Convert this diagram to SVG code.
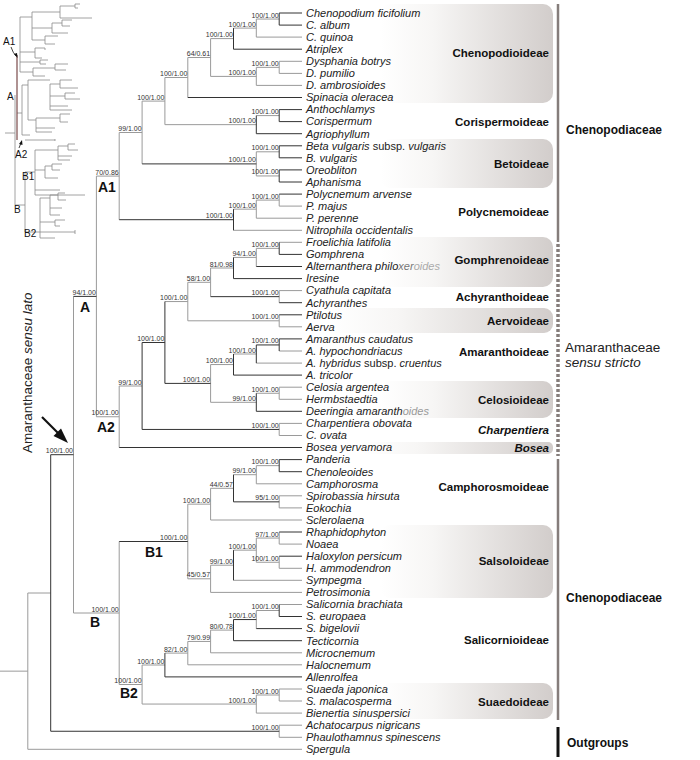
<svg xmlns="http://www.w3.org/2000/svg" width="700" height="760" viewBox="0 0 700 760">
<defs>
<linearGradient id="bg" x1="0" x2="1" y1="0" y2="0">
<stop offset="0" stop-color="#ffffff"/>
<stop offset="0.3" stop-color="#f7f6f5"/>
<stop offset="1" stop-color="#d2cdcb"/>
</linearGradient>
<style>
.l{stroke:#9a9a9a;stroke-width:1;fill:none}
.d{stroke:#333;stroke-width:1;fill:none}
.tx{font-family:"Liberation Sans",Arial,sans-serif;font-style:italic;font-size:11px;fill:#222}
.up{font-style:normal}
.s{font-family:"Liberation Sans",Arial,sans-serif;font-size:7px;fill:#333;text-anchor:end}
.sf{font-family:"Liberation Sans",Arial,sans-serif;font-weight:bold;font-size:11.5px;fill:#111;text-anchor:end}
.cl{font-family:"Liberation Sans",Arial,sans-serif;font-weight:bold;font-size:14px;fill:#111}
.fam{font-family:"Liberation Sans",Arial,sans-serif;font-weight:bold;font-size:12px;fill:#111}
.box{fill:url(#bg)}
.th{stroke:#8a8a8a;stroke-width:0.8;fill:none}
.thd{stroke:#444;stroke-width:0.8;fill:none}
.tl{font-family:"Liberation Sans",Arial,sans-serif;font-size:10px;fill:#111}
</style>
</defs>
<rect width="700" height="760" fill="#fff"/>

<g id="subfamily-boxes">
<rect class="box" x="380" y="4" width="173" height="99" rx="10"/>
<rect class="box" x="380" y="139" width="173" height="49" rx="10"/>
<rect class="box" x="380" y="237" width="173" height="50" rx="10"/>
<rect class="box" x="330" y="308" width="223" height="25" rx="9"/>
<rect class="box" x="380" y="381" width="173" height="37" rx="10"/>
<rect class="box" x="360" y="442" width="193" height="12" rx="5"/>
<rect class="box" x="380" y="525" width="173" height="73" rx="10"/>
<rect class="box" x="380" y="683" width="173" height="36" rx="10"/>
</g>

<g id="connectors">
<path class="l" d="M0 671.15H27.8 M27.8 593V749.3 M27.8 593H50.7 M27.8 749.3H302
M73.5 296.4V613 M73.5 613H119.2
M96.4 176.1V416.75 M96.4 176.1H119.2 M96.4 416.75H119.2
M256.3 19.05V37.1 M256.3 19.05H279.2 M256.3 37.1H302
M233.5 28.1H256.3
M279.2 61.3V73.4 M279.2 61.3H302 M279.2 73.4H302
M256.3 67.35V85.4 M256.3 67.35H279.2 M256.3 85.4H302
M210.6 38.6V76.4 M210.6 38.6H233.5 M210.6 76.4H256.3
M187.8 57.5V97.5 M187.8 57.5H210.6
M256.3 115.6H279.2
M164.9 77.5V124.65 M164.9 77.5H187.8 M164.9 124.65H256.3
M256.3 151.8V175.95 M256.3 151.8H279.2 M256.3 175.95H279.2
M142.1 101.1V163.9 M142.1 101.1H164.9
M279.2 194.1V206.1 M279.2 206.1H302
M256.3 200.1V218.2 M256.3 200.1H279.2 M256.3 218.2H302
M233.5 209.15H256.3 M233.5 230.3H302
M119.2 132.5V219.7 M119.2 132.5H142.1
M279.2 242.3H302
M256.3 248.35V266.5 M256.3 248.35H279.2
M233.5 257.4H256.3
M279.2 290.6V302.7 M279.2 290.6H302
M210.6 268V296.65 M210.6 268H233.5
M279.2 314.8V326.8 M279.2 326.8H302
M187.8 282.3V320.8 M187.8 282.3H210.6 M187.8 320.8H279.2
M279.2 351H302
M256.3 363.1H302
M233.5 354H256.3
M279.2 387.2V399.3 M279.2 387.2H302 M279.2 399.3H302
M256.3 393.25H279.2
M210.6 364.55V402.3 M210.6 364.55H233.5 M210.6 402.3H256.3
M164.9 301.55H187.8
M279.2 423.4V435.5 M279.2 423.4H302 M279.2 435.5H302
M119.2 386V447.5 M119.2 386H142.1
M256.3 465.65V483.8 M256.3 465.65H279.2 M256.3 483.8H302
M279.2 495.8V507.9 M279.2 495.8H302 M279.2 507.9H302
M233.5 474.7H256.3
M210.6 488.3V520 M210.6 488.3H233.5 M210.6 520H302
M279.2 532V544.1 M279.2 544.1H302
M279.2 556.2V568.3 M279.2 568.3H302
M256.3 538.05V562.25 M256.3 538.05H279.2 M256.3 562.25H279.2
M233.5 550.15H256.3 M233.5 580.3H302
M210.6 565.2V592.4 M210.6 565.2H233.5 M210.6 592.4H302
M187.8 504.15V578.8 M187.8 504.15H210.6 M187.8 578.8H210.6
M279.2 604.5H302
M256.3 610.5V628.6 M256.3 610.5H279.2
M210.6 630.1V652.8 M210.6 630.1H233.5 M210.6 652.8H302
M187.8 641.45V664.8 M187.8 641.45H210.6 M187.8 664.8H302
M164.9 653.1H187.8
M279.2 689V701 M279.2 689H302 M279.2 701H302
M256.3 695V713.1 M256.3 695H279.2 M256.3 713.1H302
M142.1 665V704.05 M142.1 665H164.9 M142.1 704.05H256.3
M119.2 541.5V684.5 M119.2 684.5H142.1
M279.2 725.2V737.3 M279.2 725.2H302 M279.2 737.3H302"/>
<path class="d" d="M279.2 13V25.1 M279.2 13H302 M279.2 25.1H302
M233.5 28.1V49.2 M233.5 49.2H302
M187.8 97.5H302
M279.2 109.6V121.6 M279.2 109.6H302 M279.2 121.6H302
M256.3 115.6V133.7 M256.3 133.7H302
M279.2 145.8V157.8 M279.2 145.8H302 M279.2 157.8H302
M279.2 169.9V182 M279.2 169.9H302 M279.2 182H302
M142.1 163.9H256.3
M279.2 194.1H302
M233.5 209.15V230.3
M119.2 219.7H233.5
M279.2 242.3V254.4 M279.2 254.4H302
M256.3 266.5H302
M233.5 257.4V278.6 M233.5 278.6H302
M279.2 302.7H302
M210.6 296.65H279.2
M279.2 314.8H302
M279.2 338.9V351 M279.2 338.9H302
M256.3 344.95V363.1 M256.3 344.95H279.2
M233.5 354V375.1 M233.5 375.1H302
M256.3 393.25V411.3 M256.3 411.3H302
M164.9 301.55V383.4 M164.9 383.4H210.6
M142.1 342.5V429.45 M142.1 342.5H164.9 M142.1 429.45H279.2
M119.2 447.5H302
M73.5 296.4H96.4
M279.2 459.6V471.7 M279.2 459.6H302 M279.2 471.7H302
M233.5 474.7V501.85 M233.5 501.85H279.2
M279.2 532H302
M279.2 556.2H302
M233.5 550.15V580.3
M279.2 604.5V616.5 M279.2 616.5H302
M256.3 628.6H302
M233.5 619.55V640.7 M233.5 619.55H256.3 M233.5 640.7H302
M164.9 653.1V676.9 M164.9 676.9H302
M119.2 541.5H187.8
M50.7 454.7V731.25 M50.7 454.7H73.5 M50.7 731.25H279.2"/>
</g>

<g id="support-values">
<text class="s" x="278.7" y="17.5">100/1.00</text>
<text class="s" x="255.8" y="26.6">100/1.00</text>
<text class="s" x="233" y="37.1">100/1.00</text>
<text class="s" x="278.7" y="65.8">100/1.00</text>
<text class="s" x="255.8" y="74.9">100/1.00</text>
<text class="s" x="210.1" y="56">64/0.61</text>
<text class="s" x="187.3" y="76">100/1.00</text>
<text class="s" x="278.7" y="114.1">100/1.00</text>
<text class="s" x="255.8" y="123.1">100/1.00</text>
<text class="s" x="164.4" y="99.6">100/1.00</text>
<text class="s" x="278.7" y="150.3">100/1.00</text>
<text class="s" x="278.7" y="174.4">100/1.00</text>
<text class="s" x="255.8" y="162.4">100/1.00</text>
<text class="s" x="141.6" y="131">99/1.00</text>
<text class="s" x="278.7" y="198.6">100/1.00</text>
<text class="s" x="255.8" y="207.6">100/1.00</text>
<text class="s" x="233" y="218.2">100/1.00</text>
<text class="s" x="118.7" y="174.6">70/0.86</text>
<text class="s" x="278.7" y="246.8">100/1.00</text>
<text class="s" x="255.8" y="255.9">94/1.00</text>
<text class="s" x="233" y="266.5">81/0.98</text>
<text class="s" x="278.7" y="295.1">100/1.00</text>
<text class="s" x="210.1" y="280.8">58/1.00</text>
<text class="s" x="278.7" y="319.3">100/1.00</text>
<text class="s" x="187.3" y="300">100/1.00</text>
<text class="s" x="278.7" y="343.4">100/1.00</text>
<text class="s" x="255.8" y="352.5">100/1.00</text>
<text class="s" x="233" y="363">100/1.00</text>
<text class="s" x="278.7" y="391.7">100/1.00</text>
<text class="s" x="255.8" y="400.8">99/1.00</text>
<text class="s" x="210.1" y="381.9">100/1.00</text>
<text class="s" x="164.4" y="341">100/1.00</text>
<text class="s" x="278.7" y="427.9">100/1.00</text>
<text class="s" x="141.6" y="384.5">99/1.00</text>
<text class="s" x="118.7" y="415.2">100/1.00</text>
<text class="s" x="95.9" y="294.9">94/1.00</text>
<text class="s" x="278.7" y="464.1">100/1.00</text>
<text class="s" x="255.8" y="473.2">99/1.00</text>
<text class="s" x="278.7" y="500.3">95/1.00</text>
<text class="s" x="233" y="486.8">44/0.57</text>
<text class="s" x="210.1" y="502.6">100/1.00</text>
<text class="s" x="278.7" y="536.5">97/1.00</text>
<text class="s" x="278.7" y="560.7">100/1.00</text>
<text class="s" x="255.8" y="548.6">100/1.00</text>
<text class="s" x="233" y="563.7">99/1.00</text>
<text class="s" x="210.1" y="577.3">45/0.57</text>
<text class="s" x="187.3" y="540">100/1.00</text>
<text class="s" x="278.7" y="609">100/1.00</text>
<text class="s" x="255.8" y="618">100/1.00</text>
<text class="s" x="233" y="628.6">80/0.78</text>
<text class="s" x="210.1" y="639.9">79/0.99</text>
<text class="s" x="187.3" y="651.6">82/1.00</text>
<text class="s" x="164.4" y="663.5">100/1.00</text>
<text class="s" x="278.7" y="693.5">100/1.00</text>
<text class="s" x="255.8" y="702.5">100/1.00</text>
<text class="s" x="141.6" y="683">100/1.00</text>
<text class="s" x="118.7" y="611.5">100/1.00</text>
<text class="s" x="73" y="453.2">100/1.00</text>
<text class="s" x="278.7" y="729.7">100/1.00</text>
</g>

<g id="clade-labels">
<text class="cl" x="98" y="192">A1</text>
<text class="cl" x="80" y="312">A</text>
<text class="cl" x="97" y="432">A2</text>
<text class="cl" x="145" y="557">B1</text>
<text class="cl" x="90" y="627">B</text>
<text class="cl" x="120" y="698">B2</text>
</g>

<g id="sensu-lato">
<text transform="translate(32,453) rotate(-90)" font-family="Liberation Sans, Arial, sans-serif" font-size="13.5" fill="#222">Amaranthaceae <tspan font-style="italic">sensu lato</tspan></text>
<path d="M42 417L60 435" stroke="#111" stroke-width="2.2"/>
<polygon points="68,443 53.5,436 61,428.5" fill="#111"/>
</g>

<g id="taxa">
<g id="t01"><text class="tx" x="306" y="16.8">Chenopodium ficifolium</text></g>
<g id="t02"><text class="tx" x="306" y="28.9">C. album</text></g>
<g id="t03"><text class="tx" x="306" y="40.9">C. quinoa</text></g>
<g id="t04"><text class="tx" x="306" y="53">Atriplex</text></g>
<g id="t05"><text class="tx" x="306" y="65.1">Dysphania botrys</text></g>
<g id="t06"><text class="tx" x="306" y="77.2">D. pumilio</text></g>
<g id="t07"><text class="tx" x="306" y="89.2">D. ambrosioides</text></g>
<g id="t08"><text class="tx" x="306" y="101.3">Spinacia oleracea</text></g>
<g id="t09"><text class="tx" x="306" y="113.4">Anthochlamys</text></g>
<g id="t10"><text class="tx" x="306" y="125.4">Corispermum</text></g>
<g id="t11"><text class="tx" x="306" y="137.5">Agriophyllum</text></g>
<g id="t12"><text class="tx" x="306" y="149.6">Beta vulgaris <tspan class="up">subsp.</tspan> vulgaris</text></g>
<g id="t13"><text class="tx" x="306" y="161.6">B. vulgaris</text></g>
<g id="t14"><text class="tx" x="306" y="173.7">Oreobliton</text></g>
<g id="t15"><text class="tx" x="306" y="185.8">Aphanisma</text></g>
<g id="t16"><text class="tx" x="306" y="197.9">Polycnemum arvense</text></g>
<g id="t17"><text class="tx" x="306" y="209.9">P. majus</text></g>
<g id="t18"><text class="tx" x="306" y="222">P. perenne</text></g>
<g id="t19"><text class="tx" x="306" y="234.1">Nitrophila occidentalis</text></g>
<g id="t20"><text class="tx" x="306" y="246.1">Froelichia latifolia</text></g>
<g id="t21"><text class="tx" x="306" y="258.2">Gomphrena</text></g>
<g id="t22"><text class="tx" x="306" y="270.3">Alternanthera philo<tspan fill="#777">xer</tspan><tspan fill="#aaa">oides</tspan></text></g>
<g id="t23"><text class="tx" x="306" y="282.4">Iresine</text></g>
<g id="t24"><text class="tx" x="306" y="294.4">Cyathula capitata</text></g>
<g id="t25"><text class="tx" x="306" y="306.5">Achyranthes</text></g>
<g id="t26"><text class="tx" x="306" y="318.6">Ptilotus</text></g>
<g id="t27"><text class="tx" x="306" y="330.6">Aerva</text></g>
<g id="t28"><text class="tx" x="306" y="342.7">Amaranthus caudatus</text></g>
<g id="t29"><text class="tx" x="306" y="354.8">A. hypochondriacus</text></g>
<g id="t30"><text class="tx" x="306" y="366.9">A. hybridus <tspan class="up">subsp.</tspan> cruentus</text></g>
<g id="t31"><text class="tx" x="306" y="378.9">A. tricolor</text></g>
<g id="t32"><text class="tx" x="306" y="391">Celosia argentea</text></g>
<g id="t33"><text class="tx" x="306" y="403.1">Hermbstaedtia</text></g>
<g id="t34"><text class="tx" x="306" y="415.1">Deeringia amaranth<tspan fill="#999">oides</tspan></text></g>
<g id="t35"><text class="tx" x="306" y="427.2">Charpentiera obovata</text></g>
<g id="t36"><text class="tx" x="306" y="439.3">C. ovata</text></g>
<g id="t37"><text class="tx" x="306" y="451.3">Bosea yervamora</text></g>
<g id="t38"><text class="tx" x="306" y="463.4">Panderia</text></g>
<g id="t39"><text class="tx" x="306" y="475.5">Chenoleoides</text></g>
<g id="t40"><text class="tx" x="306" y="487.6">Camphorosma</text></g>
<g id="t41"><text class="tx" x="306" y="499.6">Spirobassia hirsuta</text></g>
<g id="t42"><text class="tx" x="306" y="511.7">Eokochia</text></g>
<g id="t43"><text class="tx" x="306" y="523.8">Sclerolaena</text></g>
<g id="t44"><text class="tx" x="306" y="535.8">Rhaphidophyton</text></g>
<g id="t45"><text class="tx" x="306" y="547.9">Noaea</text></g>
<g id="t46"><text class="tx" x="306" y="560">Haloxylon persicum</text></g>
<g id="t47"><text class="tx" x="306" y="572.1">H. ammodendron</text></g>
<g id="t48"><text class="tx" x="306" y="584.1">Sympegma</text></g>
<g id="t49"><text class="tx" x="306" y="596.2">Petrosimonia</text></g>
<g id="t50"><text class="tx" x="306" y="608.3">Salicornia brachiata</text></g>
<g id="t51"><text class="tx" x="306" y="620.3">S. europaea</text></g>
<g id="t52"><text class="tx" x="306" y="632.4">S. bigelovii</text></g>
<g id="t53"><text class="tx" x="306" y="644.5">Tecticornia</text></g>
<g id="t54"><text class="tx" x="306" y="656.6">Microcnemum</text></g>
<g id="t55"><text class="tx" x="306" y="668.6">Halocnemum</text></g>
<g id="t56"><text class="tx" x="306" y="680.7">Allenrolfea</text></g>
<g id="t57"><text class="tx" x="306" y="692.8">Suaeda japonica</text></g>
<g id="t58"><text class="tx" x="306" y="704.8">S. malacosperma</text></g>
<g id="t59"><text class="tx" x="306" y="716.9">Bienertia sinuspersici</text></g>
<g id="t60"><text class="tx" x="306" y="729">Achatocarpus nigricans</text></g>
<g id="t61"><text class="tx" x="306" y="741.1">Phaulothamnus spinescens</text></g>
<g id="t62"><text class="tx" x="306" y="753.1">Spergula</text></g>
</g>

<g id="subfamilies">
<text class="sf" x="549" y="57">Chenopodioideae</text>
<text class="sf" x="549" y="126">Corispermoideae</text>
<text class="sf" x="549" y="168">Betoideae</text>
<text class="sf" x="549" y="216">Polycnemoideae</text>
<text class="sf" x="549" y="264">Gomphrenoideae</text>
<text class="sf" x="549" y="301">Achyranthoideae</text>
<text class="sf" x="549" y="325">Aervoideae</text>
<text class="sf" x="549" y="356">Amaranthoideae</text>
<text class="sf" x="549" y="404">Celosioideae</text>
<text class="sf" x="549" y="434" font-style="italic">Charpentiera</text>
<text class="sf" x="549" y="452" font-style="italic">Bosea</text>
<text class="sf" x="549" y="491">Camphorosmoideae</text>
<text class="sf" x="549" y="565">Salsoloideae</text>
<text class="sf" x="549" y="644">Salicornioideae</text>
<text class="sf" x="549" y="706">Suaedoideae</text>
</g>

<g id="families">
<line x1="558" y1="4" x2="558" y2="242" stroke="#857d7b" stroke-width="2.5"/>
<line x1="558" y1="244" x2="558" y2="456" stroke="#857d7b" stroke-width="3.5" stroke-dasharray="3 2"/>
<line x1="558" y1="459" x2="558" y2="720" stroke="#857d7b" stroke-width="2.5"/>
<line x1="558" y1="727" x2="558" y2="757" stroke="#111" stroke-width="3"/>
<text class="fam" x="566" y="134">Chenopodiaceae</text>
<text x="565" y="352" font-family="Liberation Sans, Arial, sans-serif" font-size="13.5" fill="#222">Amaranthaceae</text>
<text x="565" y="367" font-family="Liberation Sans, Arial, sans-serif" font-size="13.5" font-style="italic" fill="#222">sensu stricto</text>
<text class="fam" x="566" y="602">Chenopodiaceae</text>
<text class="fam" x="567" y="747" font-size="14">Outgroups</text>
</g>

<g id="inset">
<path class="th" d="M5 133H15 M15 95V205 M15 205H25 M25 172V232
M20 17V72 M20 17H32 M32 12V40 M32 12H60 M60 6V18 M60 6H75 M75 4V8 M75 4H80 M75 8H78 M60 18H92
M32 28H52 M52 23V33 M52 23H62 M62 20V26 M62 20H72 M62 26H70 M52 33H68
M32 40H45 M45 36V44 M45 36H58 M45 44H55
M20 52H35 M35 48V58 M35 48H45 M35 58H42 M45 48V50
M20 62H40 M40 60V64 M40 60H48 M40 64H46
M20 72H33 M33 68V76 M33 68H55 M55 64V70 M55 64H68 M55 70H66 M33 76H45
M17 113H22 M22 85V135 M22 85H28 M28 80V120 M28 80H50 M50 84V110 M50 84H60 M60 80V88 M60 80H72 M60 88H78 M50 96H65 M65 93V99 M65 93H75 M65 99H80 M50 106H68 M50 110H72
M28 120H36 M36 118V132 M36 118H60 M60 114V122 M60 114H70 M60 122H68 M36 128H55 M36 132H52
M22 135H30 M30 138V138 M25 140H55 M55 139V141
M25 172H35 M35 150V195 M35 150H58 M58 146V160 M58 146H68 M68 144V150 M68 144H75 M68 150H78 M58 156H72 M58 160H70
M35 170H45 M45 166V178 M45 166H52 M52 164V170 M52 164H62 M52 170H60 M45 178H58 M35 190H60 M35 195H85
M25 232H40 M40 198V238 M40 198H50 M50 195V215 M50 195H58 M58 193V200 M58 193H65 M58 200H66 M50 208H62 M50 215H60 M40 222H55 M55 220V226 M55 220H65 M55 226H60 M40 232H75 M40 238H55 M75 230V234"/>
<path d="M17 55V140" stroke="#7a4a4a" stroke-width="1.2" fill="none"/>
<text class="tl" x="3" y="45">A1</text>
<text class="tl" x="7" y="100">A</text>
<text class="tl" x="15" y="158">A2</text>
<text class="tl" x="22" y="180">B1</text>
<text class="tl" x="14" y="213">B</text>
<text class="tl" x="24" y="237">B2</text>
<path d="M11 47Q13 53 16 56" stroke="#111" stroke-width="0.8" fill="none"/>
<polygon points="17.5,58 14,54 17,53" fill="#111"/>
<path d="M19 148L21 143" stroke="#111" stroke-width="0.8" fill="none"/>
<polygon points="22,140 19,144 22.5,145" fill="#111"/>
</g>
</svg>
